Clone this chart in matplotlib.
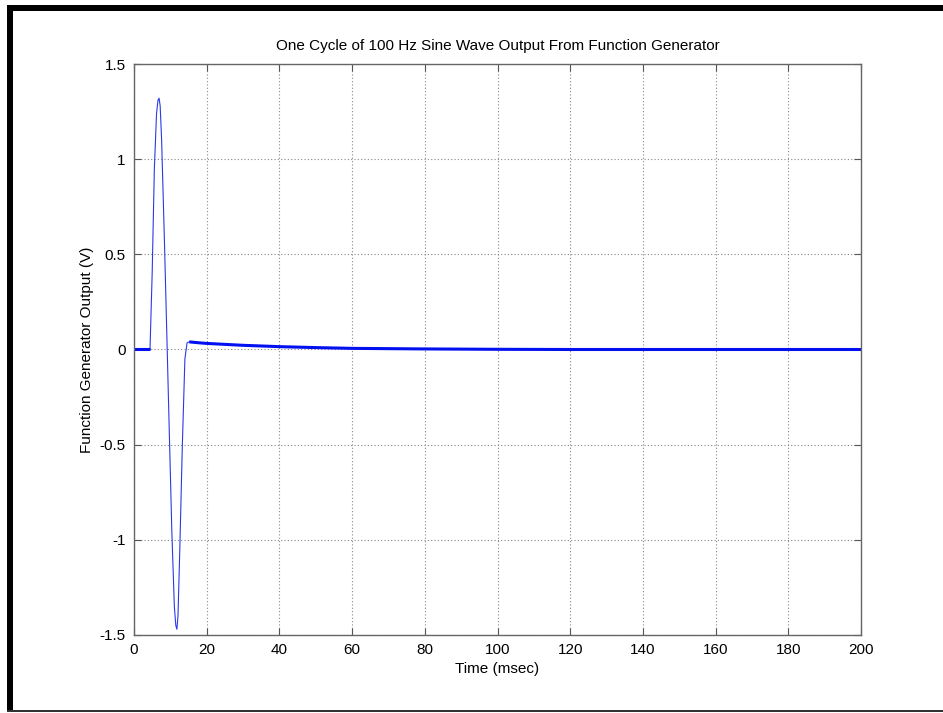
import matplotlib
matplotlib.use("Agg")
import matplotlib.pyplot as plt
from matplotlib.patches import Rectangle

# Data
pulse_t = [0, 2, 4.4, 5.0, 5.6, 6.2, 6.6, 6.9, 7.2, 7.6, 8.4, 9.4, 10.4, 11.1, 11.5, 11.8, 12.1, 12.6, 13.3, 14.0, 14.6, 15.2]
pulse_v = [0, 0, 0, 0.40, 0.95, 1.24, 1.31, 1.32, 1.28, 1.10, 0.55, -0.20, -0.95, -1.35, -1.45, -1.47, -1.40, -1.05, -0.50, -0.05, 0.035, 0.04]
tail_t = [15.2, 18, 20, 25, 30, 40, 50, 60, 80, 100, 120, 150, 180, 200]
tail_v = [0.04, 0.035, 0.032, 0.027, 0.022, 0.015, 0.010, 0.006, 0.003, 0.001, 0.0, 0.0, 0.0, 0.0]
flat_t = [0, 4.4]
flat_v = [0, 0]

xticks = [0, 20, 40, 60, 80, 100, 120, 140, 160, 180, 200]
yticks = [-1.5, -1, -0.5, 0, 0.5, 1, 1.5]
ytick_labels = ["-1.5", "-1", "-0.5", "0", "0.5", "1", "1.5"]

plt.rcParams['font.family'] = ['Liberation Sans', 'DejaVu Sans']

W, H = 943, 713
fig = plt.figure(figsize=(W / 100, H / 100), dpi=100)
fig.patch.set_facecolor("white")

ax = fig.add_axes([134 / W, 1 - 635 / H, (861 - 134) / W, (635 - 64) / H])

ax.plot(pulse_t, pulse_v, color="#2a3ae8", lw=0.8)
ax.plot(flat_t, flat_v, color="#0010f0", lw=2.2, solid_capstyle="butt")
ax.plot(tail_t, tail_v, color="#0010f0", lw=2.2, solid_capstyle="butt")

ax.set_xlim(0, 200)
ax.set_ylim(-1.5, 1.5)
ax.set_xticks(xticks)
ax.set_yticks(yticks)
ax.set_yticklabels(ytick_labels)
ax.grid(True, linestyle=(0, (1, 2)), color="#888888", lw=0.8)
ax.tick_params(direction="in", top=True, right=True, length=5, width=0.8,
               color="#555555", labelsize=11, pad=6)
for s in ax.spines.values():
    s.set_color("#666666")
    s.set_linewidth(1.0)

ax.set_title("One Cycle of 100 Hz Sine Wave Output From Function Generator",
             fontsize=11, pad=10)
ax.set_xlabel("Time (msec)", fontsize=11, labelpad=3)
ax.set_ylabel("Function Generator Output (V)", fontsize=11, labelpad=4)

# Outer frame
def px_rect(x0, y0, x1, y1, color):
    fig.patches.append(Rectangle((x0 / W, 1 - y1 / H), (x1 - x0) / W, (y1 - y0) / H,
                                 transform=fig.transFigure, color=color, lw=0,
                                 zorder=10))

px_rect(7, 5, W, 11, "black")
px_rect(7, 5, 13, 711, "black")
px_rect(7, 710, W, 712, "#333333")

fig.savefig("out.png", dpi=100)
